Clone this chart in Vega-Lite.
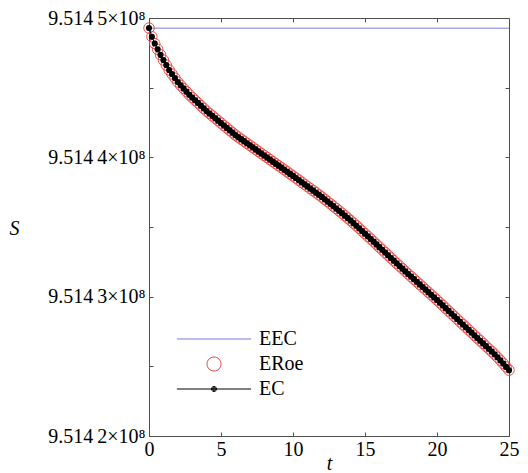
{
  "$schema": "https://vega.github.io/schema/vega-lite/v6.json",
  "width": 360,
  "height": 418,
  "autosize": {"type": "none"},
  "padding": {"left": 149, "top": 18, "right": 19, "bottom": 37},
  "background": "white",
  "config": {
    "view": {"stroke": "#4d4d4d", "strokeWidth": 1},
    "font": "Times New Roman, Liberation Serif, DejaVu Serif, serif",
    "axis": {"grid": false, "domainColor": "#4d4d4d", "tickColor": "#4d4d4d", "labelColor": "#000", "labelFont": "Times New Roman, Liberation Serif, DejaVu Serif, serif", "labelFontSize": 20, "titleFont": "Times New Roman, Liberation Serif, DejaVu Serif, serif", "titleFontSize": 20, "titleFontWeight": "normal", "titleColor": "#000", "labelFlush": false, "labelOverlap": false},
    "legend": {"title": null, "orient": "none", "legendX": 55, "legendY": 311, "symbolSize": 196, "symbolStrokeWidth": 1, "symbolOpacity": 1, "labelFont": "Times New Roman, Liberation Serif, DejaVu Serif, serif", "labelFontSize": 20, "labelColor": "#000", "labelOffset": 35, "rowPadding": 5}
  },
  "datasets": {
    "eec": [{"S": 951449270}],
    "sol": [
      {"t": 0, "S": 951449280}, {"t": 0.2, "S": 951448657}, {"t": 0.4, "S": 951448169}, {"t": 0.6, "S": 951447752}, {"t": 0.8, "S": 951447357},
      {"t": 1, "S": 951446984}, {"t": 1.2, "S": 951446624}, {"t": 1.4, "S": 951446265}, {"t": 1.6, "S": 951445978}, {"t": 1.8, "S": 951445691},
      {"t": 2, "S": 951445404}, {"t": 2.2, "S": 951445174}, {"t": 2.4, "S": 951444944}, {"t": 2.6, "S": 951444714}, {"t": 2.8, "S": 951444484},
      {"t": 3, "S": 951444290}, {"t": 3.2, "S": 951444096}, {"t": 3.4, "S": 951443903}, {"t": 3.6, "S": 951443709}, {"t": 3.8, "S": 951443515},
      {"t": 4, "S": 951443321}, {"t": 4.2, "S": 951443148}, {"t": 4.4, "S": 951442976}, {"t": 4.6, "S": 951442804}, {"t": 4.8, "S": 951442631},
      {"t": 5, "S": 951442459}, {"t": 5.2, "S": 951442287}, {"t": 5.4, "S": 951442114}, {"t": 5.6, "S": 951441942}, {"t": 5.8, "S": 951441769},
      {"t": 6, "S": 951441597}, {"t": 6.2, "S": 951441453}, {"t": 6.4, "S": 951441303}, {"t": 6.6, "S": 951441159}, {"t": 6.8, "S": 951441008},
      {"t": 7, "S": 951440865}, {"t": 7.2, "S": 951440721}, {"t": 7.4, "S": 951440570}, {"t": 7.6, "S": 951440427}, {"t": 7.8, "S": 951440275},
      {"t": 8, "S": 951440132}, {"t": 8.2, "S": 951439988}, {"t": 8.4, "S": 951439838}, {"t": 8.6, "S": 951439694}, {"t": 8.8, "S": 951439543},
      {"t": 9, "S": 951439399}, {"t": 9.2, "S": 951439256}, {"t": 9.4, "S": 951439105}, {"t": 9.6, "S": 951438961}, {"t": 9.8, "S": 951438810},
      {"t": 10, "S": 951438667}, {"t": 10.2, "S": 951438516}, {"t": 10.4, "S": 951438365}, {"t": 10.6, "S": 951438214}, {"t": 10.8, "S": 951438063},
      {"t": 11, "S": 951437913}, {"t": 11.2, "S": 951437762}, {"t": 11.4, "S": 951437611}, {"t": 11.6, "S": 951437460}, {"t": 11.8, "S": 951437309},
      {"t": 12, "S": 951437159}, {"t": 12.2, "S": 951436990}, {"t": 12.4, "S": 951436830}, {"t": 12.6, "S": 951436665}, {"t": 12.8, "S": 951436500},
      {"t": 13, "S": 951436330}, {"t": 13.2, "S": 951436160}, {"t": 13.4, "S": 951435990}, {"t": 13.6, "S": 951435815}, {"t": 13.8, "S": 951435640},
      {"t": 14, "S": 951435464}, {"t": 14.2, "S": 951435278}, {"t": 14.4, "S": 951435092}, {"t": 14.6, "S": 951434904}, {"t": 14.8, "S": 951434714},
      {"t": 15, "S": 951434524}, {"t": 15.2, "S": 951434332}, {"t": 15.4, "S": 951434140}, {"t": 15.6, "S": 951433946}, {"t": 15.8, "S": 951433750},
      {"t": 16, "S": 951433554}, {"t": 16.2, "S": 951433360}, {"t": 16.4, "S": 951433166}, {"t": 16.6, "S": 951432972}, {"t": 16.8, "S": 951432778},
      {"t": 17, "S": 951432584}, {"t": 17.2, "S": 951432390}, {"t": 17.4, "S": 951432196}, {"t": 17.6, "S": 951432009}, {"t": 17.8, "S": 951431815},
      {"t": 18, "S": 951431628}, {"t": 18.2, "S": 951431442}, {"t": 18.4, "S": 951431255}, {"t": 18.6, "S": 951431068}, {"t": 18.8, "S": 951430881},
      {"t": 19, "S": 951430695}, {"t": 19.2, "S": 951430508}, {"t": 19.4, "S": 951430321}, {"t": 19.6, "S": 951430135}, {"t": 19.8, "S": 951429948},
      {"t": 20, "S": 951429761}, {"t": 20.2, "S": 951429567}, {"t": 20.4, "S": 951429373}, {"t": 20.6, "S": 951429172}, {"t": 20.8, "S": 951428978},
      {"t": 21, "S": 951428784}, {"t": 21.2, "S": 951428590}, {"t": 21.4, "S": 951428396}, {"t": 21.6, "S": 951428195}, {"t": 21.8, "S": 951428001},
      {"t": 22, "S": 951427808}, {"t": 22.2, "S": 951427614}, {"t": 22.4, "S": 951427420}, {"t": 22.6, "S": 951427226}, {"t": 22.8, "S": 951427032},
      {"t": 23, "S": 951426838}, {"t": 23.2, "S": 951426644}, {"t": 23.4, "S": 951426450}, {"t": 23.6, "S": 951426256}, {"t": 23.8, "S": 951426062},
      {"t": 24, "S": 951425868}, {"t": 24.2, "S": 951425650}, {"t": 24.4, "S": 951425430}, {"t": 24.6, "S": 951425200}, {"t": 24.8, "S": 951424960},
      {"t": 25, "S": 951424720}
    ]
  },
  "layer": [
    {
      "data": {"name": "eec"},
      "mark": {"type": "rule", "strokeWidth": 1},
      "encoding": {
        "y": {"field": "S", "type": "quantitative", "scale": {"domain": [951420000, 951450000], "nice": false, "zero": false}, "axis": null},
        "color": {"datum": "EEC", "scale": {"domain": ["EEC", "ERoe", "EC"], "range": ["#7b7bd6", "#e8413c", "#000000"]}}
      }
    },
    {
      "data": {"name": "sol"},
      "mark": {"type": "point", "filled": false, "size": 110, "strokeWidth": 0.9, "opacity": 1, "clip": false},
      "encoding": {
        "x": {"field": "t", "type": "quantitative", "scale": {"domain": [0, 25], "nice": false, "zero": false},
          "axis": {"orient": "bottom", "values": [0, 5, 10, 15, 20, 25], "tickSize": -4, "labelPadding": 7, "title": "t", "titleFontStyle": "italic", "titlePadding": -6}},
        "y": {"field": "S", "type": "quantitative",
          "axis": {"orient": "left", "values": [951420000, 951425000, 951430000, 951435000, 951440000, 951445000, 951450000], "tickSize": -4, "labelPadding": 8,
            "labelExpr": "datum.value % 10000 === 0 ? '9.514\u2009' + format((datum.value - 951400000) / 10000, 'd') + '×10⁸' : ''",
            "title": "S", "titleFontStyle": "italic", "titleAngle": 0, "titleAlign": "center", "titleBaseline": "middle", "titleX": -135, "titleY": 210}},
        "color": {"datum": "ERoe"},
        "shape": {"datum": "ERoe", "scale": {"domain": ["EEC", "ERoe", "EC"], "range": [
          "M-5.3,0L5.3,0",
          "M-1,0A1,1,0,1,1,1,0A1,1,0,1,1,-1,0Z",
          "M-5.3,0L5.3,0M-0.36,0A0.36,0.36,0,1,1,0.36,0A0.36,0.36,0,1,1,-0.36,0M-0.22,0A0.22,0.22,0,1,1,0.22,0A0.22,0.22,0,1,1,-0.22,0M-0.08,0A0.08,0.08,0,1,1,0.08,0A0.08,0.08,0,1,1,-0.08,0"
        ]}}
      }
    },
    {
      "data": {"name": "sol"},
      "mark": {"type": "line", "strokeWidth": 1, "clip": false},
      "encoding": {
        "x": {"field": "t", "type": "quantitative", "axis": null},
        "y": {"field": "S", "type": "quantitative", "axis": null},
        "color": {"datum": "EC"}
      }
    },
    {
      "data": {"name": "sol"},
      "mark": {"type": "point", "filled": true, "size": 38, "opacity": 1, "color": "#000", "clip": false},
      "encoding": {
        "x": {"field": "t", "type": "quantitative",
          "axis": {"orient": "top", "values": [5, 10, 15, 20], "tickSize": -4, "labels": false, "title": null, "domain": false}},
        "y": {"field": "S", "type": "quantitative",
          "axis": {"orient": "right", "values": [951425000, 951430000, 951435000, 951440000, 951445000], "tickSize": -4, "labels": false, "title": null, "domain": false}}
      }
    }
  ],
  "resolve": {"axis": {"x": "independent", "y": "independent"}}
}
